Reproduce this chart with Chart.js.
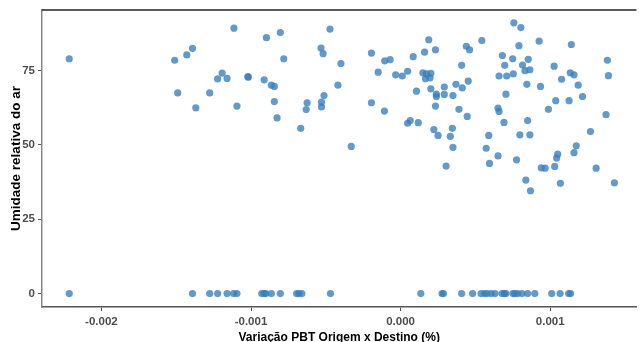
<!DOCTYPE html>
<html>
<head>
<meta charset="utf-8">
<script src="https://cdn.jsdelivr.net/npm/chart.js@4"></script>
<style>
  html, body { margin: 0; padding: 0; background: #fff; }
  #wrap { width: 640px; height: 342px; }
</style>
</head>
<body>
<div id="wrap"><canvas id="myChart" width="640" height="342"></canvas></div>
<script>
// Variação PBT Origem x Destino (%)
const variacao = [
  -0.002215, -0.001510, -0.001429, -0.001391, -0.001490, -0.001369, -0.001276, -0.001223,
  -0.001193, -0.001160, -0.001114, -0.001094, -0.001021, -0.001018, -0.000912, -0.000897,
  -0.000864, -0.000844, -0.000844, -0.000826, -0.000804, -0.000781, -0.000668, -0.000631,
  -0.000625, -0.000532, -0.000529, -0.000529, -0.000518, -0.000512, -0.000472, -0.000419,
  -0.000399, -0.000330, -0.000195, -0.000195, -0.000150, -0.000108, -0.000106, -0.000070,
  -0.000033, 0.000011, 0.000047, 0.000047, 0.000064, 0.000084, 0.000106, 0.000118,
  0.000149, 0.000160, 0.000166, 0.000173, 0.000188, 0.000197, 0.000202, 0.000202,
  0.000222, 0.000233, 0.000233, 0.000239, 0.000239, 0.000250, 0.000292, 0.000292,
  0.000304, 0.000332, 0.000346, 0.000350, 0.000350, 0.000370, 0.000390, 0.000408,
  0.000412, 0.000439, 0.000445, 0.000452, 0.000461, 0.000543, 0.000572, 0.000589,
  0.000594, 0.000651, 0.000651, 0.000658, 0.000658, 0.000680, 0.000691, 0.000696,
  0.000704, 0.000709, 0.000749, 0.000753, 0.000757, 0.000775, 0.000791, 0.000797,
  0.000804, 0.000815, 0.000831, 0.000837, 0.000844, 0.000849, 0.000853, 0.000864,
  0.000864, 0.000868, 0.000926, 0.000935, 0.000940, 0.000966, 0.000988, 0.001026,
  0.001030, 0.001037, 0.001043, 0.001050, 0.001068, 0.001076, 0.001126, 0.001134,
  0.001141, 0.001159, 0.001159, 0.001174, 0.001187, 0.001216, 0.001269, 0.001307,
  0.001373, 0.001382, 0.001389, 0.001429,
  // points on the zero line
  -0.002215, -0.001391, -0.001276, -0.001223, -0.001160, -0.001116, -0.001094, -0.000928,
  -0.000912, -0.000901, -0.000864, -0.000804, -0.000695, -0.000680, -0.000660, -0.000469,
  0.000135, 0.000277, 0.000286, 0.000408, 0.000481, 0.000538, 0.000561, 0.000578,
  0.000605, 0.000631, 0.000678, 0.000694, 0.000704, 0.000751, 0.000764, 0.000782,
  0.000811, 0.000849, 0.000897, 0.001010, 0.001066, 0.001123, 0.001136
];

// Umidade relativa do ar
const umidade = [
  79.0, 78.5, 80.3, 82.5, 67.5, 62.5, 67.5, 72.2,
  74.2, 72.4, 89.3, 63.1, 73.0, 72.8, 71.9, 86.1,
  70.1, 69.7, 64.6, 59.1, 87.8, 79.0, 55.6, 61.9,
  64.2, 82.6, 64.4, 62.8, 80.7, 66.6, 89.0, 70.1,
  77.4, 49.5, 80.9, 64.2, 74.5, 61.4, 78.3, 78.7,
  73.6, 73.2, 74.8, 57.3, 58.2, 79.7, 68.1, 57.5,
  74.3, 81.2, 72.3, 73.9, 85.4, 72.6, 74.1, 68.9,
  55.2, 82.0, 63.1, 67.1, 66.3, 53.2, 69.5, 67.0,
  42.9, 52.9, 55.6, 66.6, 49.2, 70.4, 62.0, 76.8,
  69.2, 83.2, 59.6, 71.5, 82.0, 85.1, 48.9, 53.2,
  43.8, 46.3, 62.4, 61.3, 73.2, 80.1, 57.6, 76.8,
  67.1, 73.2, 79.0, 73.9, 91.1, 45.0, 83.4, 53.4,
  89.5, 76.9, 75.0, 38.2, 70.4, 58.2, 78.8, 75.3,
  53.4, 34.6, 84.9, 69.7, 42.3, 42.2, 62.0, 76.5,
  42.8, 64.9, 45.6, 46.9, 37.1, 72.1, 64.9, 74.3,
  83.8, 73.6, 47.4, 49.7, 70.1, 66.3, 54.5, 42.2,
  60.2, 78.5, 73.3, 37.3,
  0, 0, 0, 0, 0, 0, 0, 0,
  0, 0, 0, 0, 0, 0, 0, 0,
  0, 0, 0, 0, 0, 0, 0, 0,
  0, 0, 0, 0, 0, 0, 0, 0,
  0, 0, 0, 0, 0, 0, 0
];

const xTicks = [-0.002, -0.001, 0.000, 0.001];
const yTicks = [0, 25, 50, 75];

const points = variacao.map((x, i) => ({ x: x, y: umidade[i] }));

// top border of the panel
const topLine = {
  id: "topLine",
  afterDraw(chart) {
    const a = chart.chartArea;
    const ctx = chart.ctx;
    ctx.save();
    ctx.strokeStyle = "#222";
    ctx.lineWidth = 1.5;
    ctx.beginPath();
    ctx.moveTo(a.left, a.top);
    ctx.lineTo(a.right, a.top);
    ctx.stroke();
    ctx.restore();
  }
};

Chart.defaults.font.family = "'Liberation Sans', Arial, sans-serif";

new Chart("myChart", {
  type: "scatter",
  data: {
    datasets: [{
      data: points,
      backgroundColor: "rgba(55,126,186,0.78)",
      borderWidth: 0,
      pointRadius: 3.6,
      pointHoverRadius: 3.6
    }]
  },
  options: {
    responsive: false,
    animation: false,
    layout: { padding: { top: 10, right: 0, left: 0, bottom: 0 } },
    plugins: {
      legend: { display: false },
      tooltip: { enabled: false }
    },
    scales: {
      x: {
        type: "linear",
        min: -0.002397,
        max: 0.001576,
        afterBuildTicks: s => { s.ticks = xTicks.map(v => ({ value: v })); },
        afterFit: s => { s.height = 35; },
        ticks: {
          color: "#4d4d4d",
          font: { size: 11.5, weight: "bold" },
          padding: 4,
          maxRotation: 0,
          callback: v => v.toFixed(3)
        },
        grid: { drawOnChartArea: false, tickLength: 4, tickColor: "#555" },
        border: { color: "#555", width: 1.5 },
        title: {
          display: true,
          text: "Variação PBT Origem x Destino (%)",
          color: "#000",
          font: { size: 12, weight: "bold" },
          padding: { top: 0, bottom: -3 }
        }
      },
      y: {
        type: "linear",
        min: -4.5,
        max: 95.4,
        afterBuildTicks: s => { s.ticks = yTicks.map(v => ({ value: v })); },
        afterFit: s => { s.width = 42; },
        ticks: {
          color: "#4d4d4d",
          font: { size: 11.5, weight: "bold" },
          padding: 3
        },
        grid: { drawOnChartArea: false, tickLength: 4, tickColor: "#555" },
        border: { color: "#888", width: 1.5 },
        title: {
          display: true,
          text: "Umidade relativa do ar",
          color: "#000",
          font: { size: 13.5, weight: "bold" },
          padding: { top: 8, bottom: 0 }
        }
      }
    }
  },
  plugins: [topLine]
});
</script>
</body>
</html>
